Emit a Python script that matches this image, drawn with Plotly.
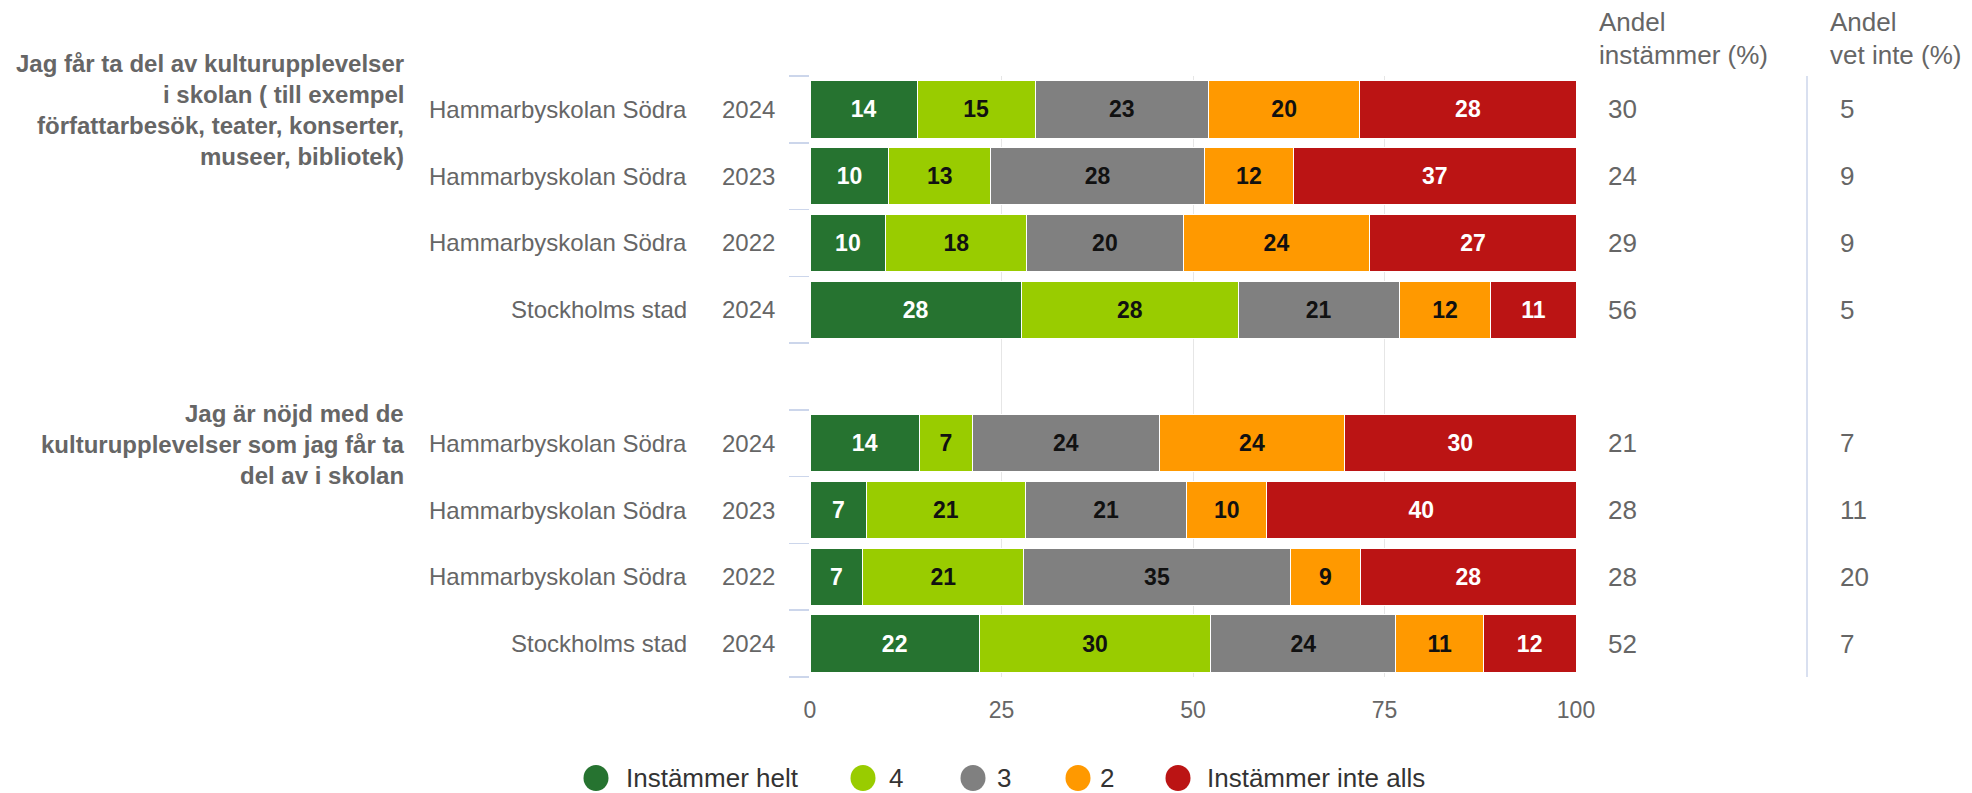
import plotly.graph_objects as go

# ---------------- data ----------------
row_names = ["Hammarbyskolan Södra", "Hammarbyskolan Södra", "Hammarbyskolan Södra", "Stockholms stad",
             "Hammarbyskolan Södra", "Hammarbyskolan Södra", "Hammarbyskolan Södra", "Stockholms stad"]
row_years = ["2024", "2023", "2022", "2024", "2024", "2023", "2022", "2024"]
row_slots = [0, 1, 2, 3, 5, 6, 7, 8]          # slot 4 is the gap between the two questions

questions = [
    ["Jag får ta del av kulturupplevelser", "i skolan ( till exempel",
     "författarbesök, teater, konserter,", "museer, bibliotek)"],
    ["Jag är nöjd med de", "kulturupplevelser som jag får ta", "del av i skolan"],
]
question_first_slot = [0, 5]

series_names = ["Instämmer helt", "4", "3", "2", "Instämmer inte alls"]
series_colors = ["#267330", "#99cc00", "#808080", "#ff9900", "#bb1414"]
label_colors = ["#ffffff", "#111111", "#111111", "#111111", "#ffffff"]

instammer_helt = [14.0, 10.3, 9.9, 27.6, 14.3, 7.4, 6.9, 22.1]
val_4 = [15.4, 13.3, 18.4, 28.3, 6.9, 20.7, 21.0, 30.2]
val_3 = [22.6, 27.9, 20.4, 21.0, 24.4, 21.1, 34.8, 24.2]
val_2 = [19.8, 11.6, 24.4, 12.0, 24.2, 10.4, 9.2, 11.4]
instammer_inte = [28.2, 36.9, 26.9, 11.1, 30.2, 40.4, 28.1, 12.1]
series_values = [instammer_helt, val_4, val_3, val_2, instammer_inte]

andel_instammer = [30, 24, 29, 56, 21, 28, 28, 52]
andel_vet_inte = [5, 9, 9, 5, 7, 11, 20, 7]

col_headers = [["Andel", "instämmer (%)"], ["Andel", "vet inte (%)"]]

x_ticks = [0, 25, 50, 75, 100]

# ---------------- figure ----------------
FONT = "Liberation Sans, Arial, sans-serif"
W, H = 1972, 793
L, R, T, B = 810, 396, 76, 116
PW = W - L - R
PH = H - T - B
PX_RIGHT = L + PW
LABEL_SIZE = 24
COL_SIZE = 26
LEG_SIZE = 26

fig = go.Figure()
for name, vals, col, lc in zip(series_names, series_values, series_colors, label_colors):
    fig.add_trace(go.Bar(
        x=vals, y=row_slots, orientation="h", name=name,
        marker=dict(color=col, line=dict(color="#ffffff", width=1)),
        width=0.858,
        texttemplate="%{x:.0f}", textposition="inside", insidetextanchor="middle",
        textangle=0, constraintext="none",
        textfont=dict(family=FONT, size=23, color=lc, weight="bold"),
        showlegend=False, hoverinfo="skip",
    ))

annotations = []
# row labels
for name, year, slot in zip(row_names, row_years, row_slots):
    annotations.append(dict(text=name, xref="paper", x=0, xshift=689 - L, xanchor="right",
                            yref="y", y=slot, yanchor="middle", showarrow=False,
                            font=dict(family=FONT, size=LABEL_SIZE, color="#666666")))
    annotations.append(dict(text=year, xref="paper", x=0, xshift=777 - L, xanchor="right",
                            yref="y", y=slot, yanchor="middle", showarrow=False,
                            font=dict(family=FONT, size=LABEL_SIZE, color="#666666")))

# question titles
for lines, slot in zip(questions, question_first_slot):
    n = len(lines)
    for i, line in enumerate(lines):
        annotations.append(dict(text="<b>%s</b>" % line, xref="paper", x=0, xshift=406 - L,
                                xanchor="right", yref="y", y=slot, yanchor="middle",
                                yshift=((n - 1) / 2 - i) * 31 - 1, showarrow=False,
                                font=dict(family=FONT, size=LABEL_SIZE, color="#666666")))

# right-hand value columns
for a, v, slot in zip(andel_instammer, andel_vet_inte, row_slots):
    annotations.append(dict(text=str(a), xref="paper", x=1, xshift=1606 - PX_RIGHT, xanchor="left",
                            yref="y", y=slot, yanchor="middle", showarrow=False,
                            font=dict(family=FONT, size=COL_SIZE, color="#666666")))
    annotations.append(dict(text=str(v), xref="paper", x=1, xshift=1838 - PX_RIGHT, xanchor="left",
                            yref="y", y=slot, yanchor="middle", showarrow=False,
                            font=dict(family=FONT, size=COL_SIZE, color="#666666")))

for hdr, xpix in zip(col_headers, [1597, 1828]):
    for i, line in enumerate(hdr):
        annotations.append(dict(text=line, xref="paper", x=1, xshift=xpix - PX_RIGHT, xanchor="left",
                                yref="paper", y=1, yshift=T - (22 + 33 * i), yanchor="middle",
                                showarrow=False, font=dict(family=FONT, size=COL_SIZE, color="#666666")))

# custom legend
leg_centers = [596, 863, 973, 1078, 1178]
leg_text_x = [624, 887, 995, 1098, 1205]
leg_y = 778
shapes = []
for name, col, cx, tx in zip(series_names, series_colors, leg_centers, leg_text_x):
    shapes.append(dict(type="circle", xref="paper", yref="paper",
                       xsizemode="pixel", ysizemode="pixel",
                       xanchor=(cx - L) / PW, yanchor=(T + PH - leg_y) / PH,
                       x0=-12.5, x1=12.5, y0=-13, y1=13,
                       fillcolor=col, line=dict(width=0)))
    annotations.append(dict(text=name, xref="paper", x=(tx - L) / PW, xanchor="left",
                            yref="paper", y=(T + PH - leg_y) / PH, yanchor="middle",
                            showarrow=False, font=dict(family=FONT, size=LEG_SIZE, color="#333333")))

# separator line between the two right columns
shapes.append(dict(type="line", xref="paper", yref="paper",
                   x0=(1807 - L) / PW, x1=(1807 - L) / PW, y0=0, y1=1,
                   line=dict(color="#ccd6eb", width=1.5)))

boundaries = [s - 0.5 for s in range(10)]

fig.update_layout(
    width=W, height=H, autosize=False,
    margin=dict(l=L, r=R, t=T, b=B, pad=0),
    barmode="stack",
    plot_bgcolor="#ffffff", paper_bgcolor="#ffffff",
    font=dict(family=FONT, color="#666666"),
    xaxis=dict(range=[0, 100], tickvals=x_ticks, showgrid=True, gridcolor="#e6e6e6", gridwidth=1,
               zeroline=False, showline=False, ticks="", ticklabelstandoff=17,
               tickfont=dict(family=FONT, size=23, color="#666666"), fixedrange=True),
    yaxis=dict(range=[8.5, -0.5], tickvals=boundaries, ticktext=[""] * len(boundaries),
               ticks="outside", ticklen=20, tickcolor="#ccd6eb", tickwidth=1.5,
               showgrid=False, zeroline=False, showline=False, fixedrange=True),
    annotations=annotations,
    shapes=shapes,
    showlegend=False,
)

fig.write_html("out.html",
               config={"displayModeBar": False, "staticPlot": True},
               post_script="document.body.style.margin='0';document.body.style.overflow='hidden';")
